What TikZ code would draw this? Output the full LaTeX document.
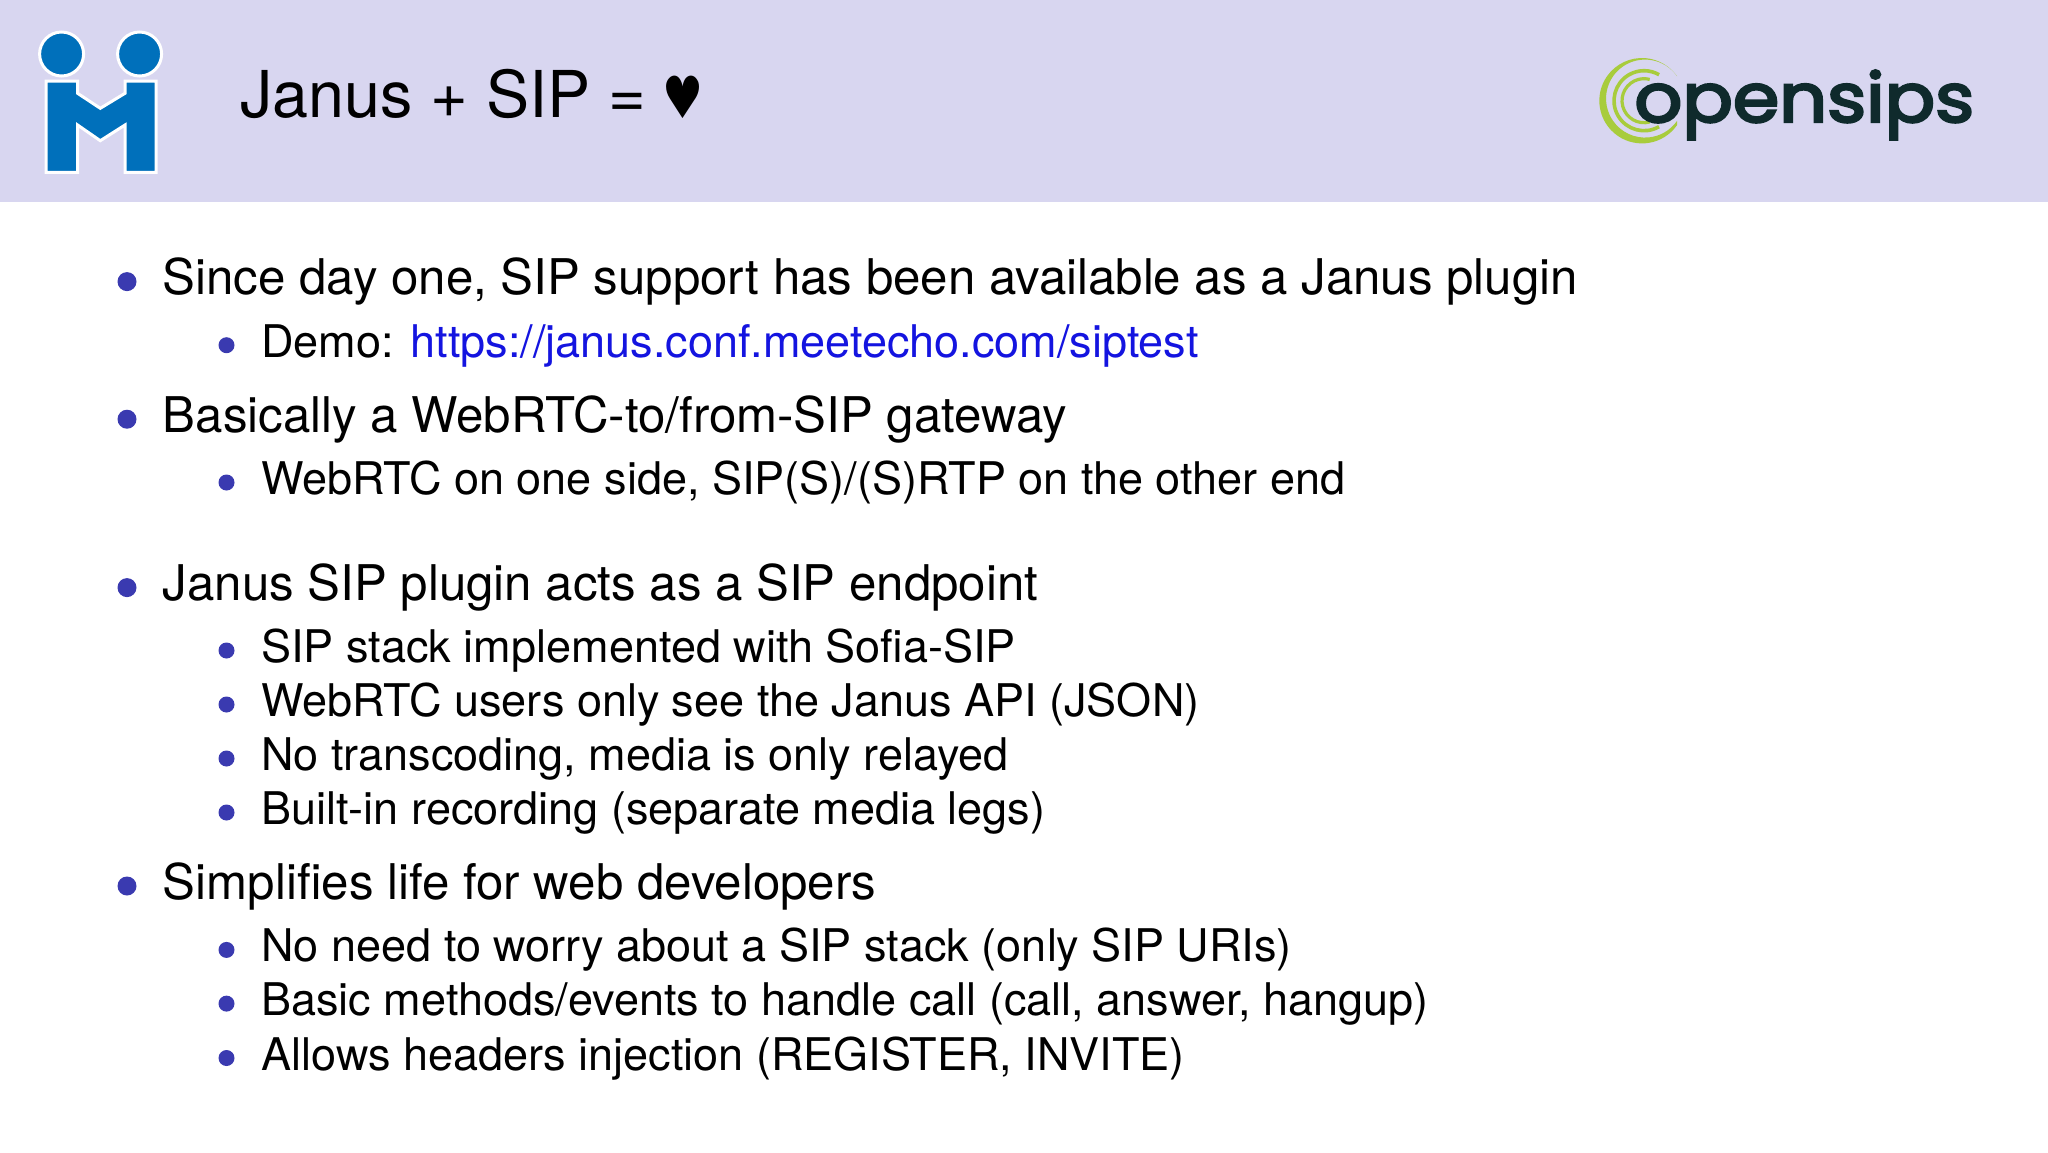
\documentclass[tikz,border=0pt]{standalone}
\usepackage{fontspec}
\setmainfont{TeX Gyre Heros}
\newfontfamily\symfont{DejaVu Sans}
\newfontfamily\logofont[FakeBold=3.5]{Poppins}
\definecolor{headbg}{HTML}{D8D6F0}
\definecolor{januslogo}{HTML}{0070BB}
\definecolor{bulletblue}{HTML}{3A3AB0}
\definecolor{linkblue}{HTML}{1414E0}
\definecolor{sipgreen}{HTML}{A8CC3C}
\definecolor{sipdark}{HTML}{0F2A2C}
\tikzset{
  mainitem/.style={anchor=base west,inner sep=0pt,font=\fontsize{24.6}{28}\selectfont},
  subitem/.style={anchor=base west,inner sep=0pt,font=\fontsize{22.5}{26}\selectfont},
}
\begin{document}
\begin{tikzpicture}[x=0.5pt,y=-0.5pt]
     		\useasboundingbox (0,0) rectangle (2048,1152);
     		\fill[white] (0,0) rectangle (2048,1152);
     		\fill[headbg] (0,0) rectangle (2048,202);
     		% janus logo
     		\foreach \x in {61.6,139.6}{
     		\draw[white,line width=1.5pt,fill=januslogo] (\x,54) ellipse (22 and 22);}
     		\draw[white,line width=1.5pt,fill=januslogo] (46,81)--(77.6,81)--(77.6,93.3)--(100.3,108.3)--(125,93.3)--(125,81)--(156,81)--(156,172.3)--(125,172.3)--(125,125)--(100.3,140.7)--(77.6,125)--(77.6,172.3)--(46,172.3)--cycle;
     		% title
     		\node[anchor=base west,inner sep=0pt,font=\fontsize{32.3}{36}\selectfont] (title) at (240,117) {Janus + SIP = \hspace{-1pt}{\symfont\fontsize{26}{30}\selectfont\raisebox{-0.6pt}{\scalebox{0.88}[1.12]{♥}}}};
     		% opensips logo
     		\fill[sipgreen] (1642,100.7) ++(35:42.7) arc (35:325:42.7) arc (325:35:39) --cycle;
     		\draw[sipgreen,line width=1.8pt] (1644,100.7) ++(60:30) arc (60:300:30);
     		\draw[sipgreen,line width=1.6pt] (1644,100.7) ++(75:22) arc (75:285:22);
     		\node[anchor=base west,inner sep=0pt,text=sipdark,font=\logofont\fontsize{34}{38}\selectfont,xscale=1.1] (sipname) at (1634,122) {opensips};
     		% list
     		\foreach \y/\t [count=\i] in {294.6/{Since day one, SIP support has been available as a Janus plugin},432.2/{Basically a WebRTC-to/from-SIP gateway},600.6/{Janus SIP plugin acts as a SIP endpoint},899/{Simplifies life for web developers}}{
     		\fill[bulletblue] (127,\y-13) circle (9.5);
     		\node[mainitem] (main\i) at (162.5,\y) {\t};}
     		\foreach \y/\t [count=\i] in {357.2/{Demo: \textcolor{linkblue}{https://janus.conf.meetecho.com/siptest}},494.5/{WebRTC on one side, SIP(S)/(S)RTP on the other end},662.5/{SIP stack implemented with Sofia-SIP},716.5/{WebRTC users only see the Janus API (JSON)},770.5/{No transcoding, media is only relayed},824.5/{Built-in recording (separate media legs)},961.9/{No need to worry about a SIP stack (only SIP URIs)},1015.6/{Basic methods/events to handle call (call, answer, hangup)},1070/{Allows headers injection (REGISTER, INVITE)}}{
     		\fill[bulletblue] (226.5,\y-12) circle (8);
     		\node[subitem] (sub\i) at (261,\y) {\t};}
\end{tikzpicture}
\end{document}
